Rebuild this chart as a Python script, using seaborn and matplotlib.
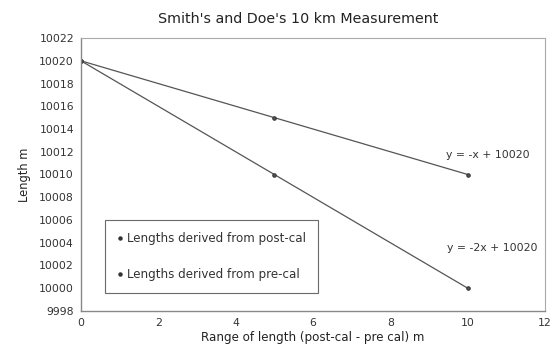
import numpy as np
import pandas as pd
import seaborn as sns
from matplotlib import pyplot as plt

# data
range_m = [0, 5, 10]
post_cal = [10020, 10015, 10010]
pre_cal = [10020, 10010, 10000]
series_names = ["Lengths derived from post-cal", "Lengths derived from pre-cal"]
y_ticks = list(range(9998, 10023, 2))
x_ticks = [0, 2, 4, 6, 8, 10, 12]

df = pd.DataFrame({
    "range": range_m * 2,
    "length": post_cal + pre_cal,
    "series": [series_names[0]] * 3 + [series_names[1]] * 3,
})

sns.set_style("white")
plt.rcParams['font.family'] = ['DejaVu Sans']

fig = plt.figure(figsize=(5.54, 3.49), dpi=100)
ax = fig.add_axes([0.146, 0.109, 0.838, 0.782])

sns.lineplot(data=df, x="range", y="length", hue="series",
             palette=["#555555", "#555555"], marker="o", markersize=2.5,
             markeredgecolor="#333333", linewidth=0.9, legend=False, ax=ax)

ax.set_xlim(0, 12)
ax.set_ylim(9998, 10022)
ax.set_xticks(x_ticks)
ax.set_yticks(y_ticks)
ax.tick_params(direction="inout", length=4, width=0.8, color="#777777",
               labelsize=7.8, labelcolor="#333333", pad=3)

for side in ["left", "bottom"]:
    ax.spines[side].set_color("#888888")
    ax.spines[side].set_linewidth(1.0)
for side in ["top", "right"]:
    ax.spines[side].set_color("#aaaaaa")
    ax.spines[side].set_linewidth(0.8)

ax.set_title("Smith's and Doe's 10 km Measurement", fontsize=10.3, color="#222222",
             x=0.468, pad=11)
ax.set_xlabel("Range of length (post-cal - pre cal) m", fontsize=8.6, color="#222222", labelpad=2)
ax.set_ylabel("Length m", fontsize=8.3, color="#222222", labelpad=6)

ax.text(10.53, 10011.7, "y = -x + 10020", fontsize=7.8, color="#333333", ha="center", va="center")
ax.text(10.63, 10003.5, "y = -2x + 10020", fontsize=7.8, color="#333333", ha="center", va="center")

# legend with dot markers only
handles = [plt.Line2D([], [], linestyle="none", marker="o", markersize=2.2,
                      color="#333333") for _ in series_names]
leg = ax.legend(handles, series_names, loc="lower left", bbox_to_anchor=(0.052, 0.066),
                fontsize=8.6, frameon=True, fancybox=False, handlelength=0.5,
                handletextpad=0.35, labelspacing=1.9, borderpad=1.0, borderaxespad=0)
leg.get_frame().set_edgecolor("#444444")
leg.get_frame().set_linewidth(0.8)
for t in leg.get_texts():
    t.set_color("#333333")

plt.savefig("out.png", dpi=100)
